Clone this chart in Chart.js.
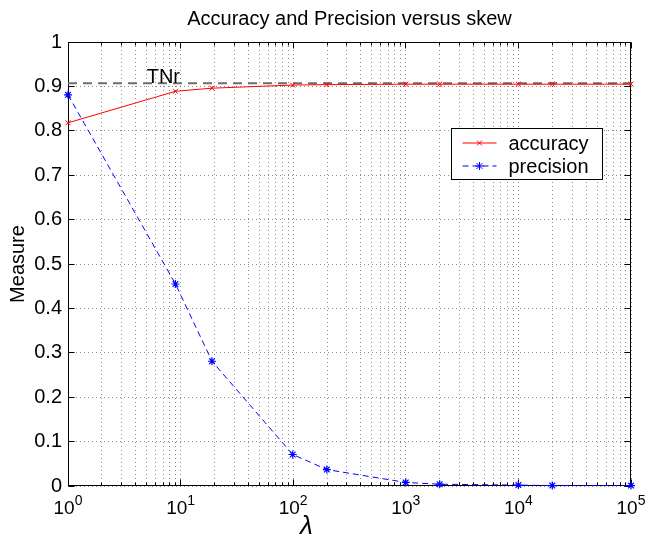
<!DOCTYPE html>
<html>
<head>
<meta charset="utf-8">
<title>Accuracy and Precision versus skew</title>
<script src="https://cdn.jsdelivr.net/npm/chart.js@4.4.1/dist/chart.umd.min.js"></script>
<style>
  html, body { margin: 0; padding: 0; background: #fff; }
  #wrap { width: 645px; height: 536px; }
</style>
</head>
<body>
<div id="wrap"><canvas id="chart" width="645" height="536"></canvas></div>
<script>
// values
const lambdaValues = [1, 9, 19, 99, 199, 999, 1999, 9999, 19999, 99999];
const accuracyValues = [0.818, 0.889, 0.896, 0.903, 0.904, 0.905, 0.905, 0.905, 0.905, 0.905];
const precisionValues = [0.881, 0.455, 0.281, 0.071, 0.037, 0.008, 0.004, 0.002, 0.001, 0.001];
const tnrLevel = 0.907;
const tnrLabelX = 5;
const xRange = [1, 100000];
const xTickPowers = [0, 1, 2, 3, 4, 5];
const yTickValues = [0, 0.1, 0.2, 0.3, 0.4, 0.5, 0.6, 0.7, 0.8, 0.9, 1];
const seriesLabels = ['accuracy', 'precision'];

const FONT = "'Liberation Sans', Arial, Helvetica, sans-serif";
const GRID = 'rgba(0,0,0,0.45)';

function toPoints(xs, ys) {
    return xs.map((x, i) => ({ x: x, y: ys[i] }));
}

function isDecade(v) {
    const l = Math.log10(v);
    return Math.abs(l - Math.round(l)) < 1e-9;
}

function align(p) {
    return Math.round(p - 0.5) + 0.5;
}

// box, inward ticks (matlab style)
const axesBox = {
    id: 'axesBox',
    beforeDatasetsDraw(chart) {
        const ctx = chart.ctx;
        const a = chart.chartArea;
        const xs = chart.scales.x, ys = chart.scales.y;
        const l = align(a.left + 0.5), r = align(a.right - 0.5);
        const t = align(a.top + 0.5), b = align(a.bottom - 0.5);
        ctx.save();
        ctx.strokeStyle = '#000';
        ctx.lineWidth = 1;
        ctx.setLineDash([]);
        ctx.strokeRect(l, t, r - l, b - t);
        ctx.beginPath();
        ys.ticks.forEach(tk => {
            const y = align(ys.getPixelForValue(tk.value));
            ctx.moveTo(l, y); ctx.lineTo(l + 6, y);
            ctx.moveTo(r, y); ctx.lineTo(r - 6, y);
        });
        xs.ticks.forEach(tk => {
            const x = align(xs.getPixelForValue(tk.value));
            const len = isDecade(tk.value) ? 6 : 3;
            ctx.moveTo(x, b); ctx.lineTo(x, b - len);
            ctx.moveTo(x, t); ctx.lineTo(x, t + len);
        });
        ctx.stroke();
        ctx.restore();
    },
    afterDraw(chart) {
        const ctx = chart.ctx;
        const a = chart.chartArea;
        const xs = chart.scales.x, ys = chart.scales.y;
        ctx.save();
        ctx.fillStyle = '#000';

        // x tick labels 10^n
        xTickPowers.forEach(p => {
            const x = xs.getPixelForValue(Math.pow(10, p));
            ctx.font = '19px ' + FONT;
            const wBase = ctx.measureText('10').width;
            ctx.font = '14px ' + FONT;
            const wSup = ctx.measureText(String(p)).width;
            const x0 = x - (wBase + wSup) / 2;
            ctx.textAlign = 'left';
            ctx.textBaseline = 'alphabetic';
            ctx.font = '19px ' + FONT;
            ctx.fillText('10', x0, a.bottom + 28);
            ctx.font = '14px ' + FONT;
            ctx.fillText(String(p), x0 + wBase, a.bottom + 19);
        });

        // x axis label
        ctx.font = 'italic 26px ' + FONT;
        ctx.textAlign = 'center';
        ctx.textBaseline = 'alphabetic';
        ctx.fillText('\u03bb', (a.left + a.right) / 2 - 43, a.bottom + 48);

        // TNr annotation
        ctx.font = '20px ' + FONT;
        ctx.textAlign = 'left';
        ctx.fillText('TNr', xs.getPixelForValue(tnrLabelX), ys.getPixelForValue(tnrLevel));

        // legend box inside the axes
        const lw = 151, lh = 51;
        const lx = align(a.right - 29 - lw), ly = align(a.top + 86);
        ctx.fillStyle = '#fff';
        ctx.fillRect(lx, ly, lw, lh);
        ctx.strokeStyle = '#000';
        ctx.lineWidth = 1;
        ctx.strokeRect(lx, ly, lw, lh);
        chart.data.datasets.slice(0, 2).forEach((ds, i) => {
            const ry = ly + 14.5 + i * 23;
            ctx.save();
            ctx.strokeStyle = ds.borderColor;
            ctx.lineWidth = 1;
            ctx.setLineDash(ds.borderDash || []);
            ctx.beginPath();
            ctx.moveTo(lx + 11, ry);
            ctx.lineTo(lx + 45, ry);
            ctx.stroke();
            ctx.setLineDash([]);
            Chart.helpers.drawPoint(ctx, {
                pointStyle: ds.pointStyle,
                radius: ds.pointRadius,
                borderWidth: 1
            }, lx + 28, ry);
            ctx.restore();
            ctx.fillStyle = '#000';
            ctx.font = '20px ' + FONT;
            ctx.textAlign = 'left';
            ctx.textBaseline = 'middle';
            ctx.fillText(ds.label, lx + 57, ry + 1);
        });
        ctx.restore();
    }
};

Chart.defaults.font.family = FONT;
Chart.defaults.color = '#000';

const ctx = document.getElementById('chart').getContext('2d');
new Chart(ctx, {
    type: 'line',
    data: {
        datasets: [{
            label: seriesLabels[0],
            data: toPoints(lambdaValues, accuracyValues),
            borderColor: 'rgb(255,0,0)',
            backgroundColor: 'rgb(255,0,0)',
            borderWidth: 1,
            pointStyle: 'crossRot',
            pointRadius: 3.5,
            pointBorderWidth: 1,
            tension: 0,
            clip: false
        }, {
            label: seriesLabels[1],
            data: toPoints(lambdaValues, precisionValues),
            borderColor: 'rgb(0,0,255)',
            backgroundColor: 'rgb(0,0,255)',
            borderWidth: 1,
            borderDash: [6, 4],
            pointStyle: 'star',
            pointRadius: 4,
            pointBorderWidth: 1.2,
            tension: 0,
            clip: false
        }, {
            label: 'TNr',
            data: toPoints(xRange, [tnrLevel, tnrLevel]),
            borderColor: 'rgb(110,110,110)',
            borderWidth: 2,
            borderDash: [9, 6],
            pointRadius: 0,
            tension: 0
        }]
    },
    options: {
        responsive: false,
        animation: false,
        devicePixelRatio: 1,
        layout: { padding: { left: 0, right: 14, top: 0, bottom: 0 } },
        plugins: {
            legend: { display: false },
            tooltip: { enabled: false },
            title: {
                display: true,
                fullSize: false,
                text: 'Accuracy and Precision versus skew',
                font: { size: 20, weight: 'normal' },
                color: '#000',
                padding: { top: 7, bottom: 11 }
            }
        },
        scales: {
            x: {
                type: 'logarithmic',
                min: xRange[0],
                max: xRange[1],
                afterBuildTicks: scale => {
                    const ticks = [];
                    xTickPowers.forEach((p, i) => {
                        if (i === xTickPowers.length - 1) {
                            ticks.push({ value: Math.pow(10, p) });
                            return;
                        }
                        for (let m = 1; m <= 9; m++) ticks.push({ value: m * Math.pow(10, p) });
                    });
                    scale.ticks = ticks;
                },
                afterFit: scale => { scale.height = 50; },
                ticks: { display: false },
                grid: { color: GRID, lineWidth: 1, drawTicks: false },
                border: { display: false, dash: [1, 3] }
            },
            y: {
                type: 'linear',
                min: 0,
                max: 1,
                afterBuildTicks: scale => {
                    scale.ticks = yTickValues.map(v => ({ value: v }));
                },
                afterFit: scale => { scale.width = 68; },
                ticks: {
                    font: { size: 20 },
                    color: '#000',
                    padding: 6,
                    callback: v => (v === 0 || v === 1) ? String(v) : v.toFixed(1)
                },
                title: {
                    display: true,
                    text: 'Measure',
                    font: { size: 20 },
                    color: '#000',
                    padding: { top: 6, bottom: 0 }
                },
                grid: { color: GRID, lineWidth: 1, drawTicks: false },
                border: { display: false, dash: [1, 3] }
            }
        }
    },
    plugins: [axesBox]
});
</script>
</body>
</html>
